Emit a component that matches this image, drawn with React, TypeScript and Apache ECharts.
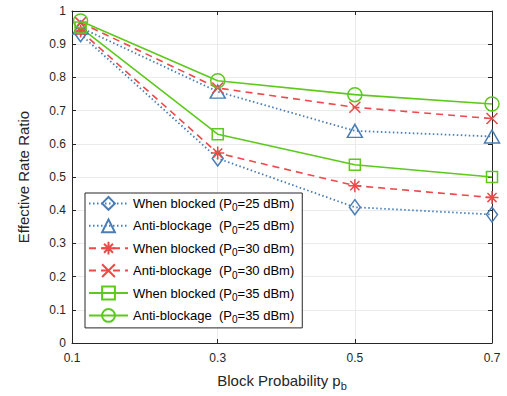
import React, { useEffect, useRef } from "react";
import * as echarts from "echarts";

// ---- data ----
const xValues = [0.1, 0.3, 0.5, 0.7];
const xAxisMin = 0.0875;
const xAxisMax = 0.7;
const xTickValues = [xAxisMin, 0.3, 0.5, 0.7];
const xTickLabels = ["0.1", "0.3", "0.5", "0.7"];

const seriesNames = [
  "When blocked (P0=25 dBm)",
  "Anti-blockage  (P0=25 dBm)",
  "When blocked (P0=30 dBm)",
  "Anti-blockage  (P0=30 dBm)",
  "When blocked (P0=35 dBm)",
  "Anti-blockage  (P0=35 dBm)",
];
const whenBlocked25 = [0.93, 0.556, 0.409, 0.387];
const antiBlockage25 = [0.95, 0.757, 0.639, 0.622];
const whenBlocked30 = [0.94, 0.572, 0.474, 0.438];
const antiBlockage30 = [0.965, 0.768, 0.71, 0.676];
const whenBlocked35 = [0.95, 0.629, 0.537, 0.5];
const antiBlockage35 = [0.97, 0.79, 0.748, 0.72];

const xAxisName = "Block Probability p{s|b}";
const yAxisName = "Effective Rate Ratio";

// ---- styles ----
const FONT = "'Liberation Sans', Arial, Helvetica, sans-serif";
const BLUE = "#4a7eb4";
const RED = "#ee4848";
const GREEN = "#5cc91c";
const AXIS = "#262626";

const SYM = {
  diamond: "path://M0,-1L0.75,0L0,1L-0.75,0Z",
  triangle: "path://M0,-1L1,1L-1,1Z",
  star: "path://M0,-1L0,1M-1,0L1,0M-0.7,-0.7L0.7,0.7M-0.7,0.7L0.7,-0.7",
  cross: "path://M-1,-1L1,1M-1,1L1,-1",
  square: "path://M-1,-1L1,-1L1,1L-1,1Z",
  circle: "path://M1,0A1,1,0,1,1,-1,0A1,1,0,1,1,1,0Z",
};

type Spec = {
  values: number[];
  color: string;
  dash: any;
  width: number;
  symbol: string;
  size: number | number[];
};

const specs: Spec[] = [
  { values: whenBlocked25, color: BLUE, dash: [1.5, 2.5], width: 1.8, symbol: SYM.diamond, size: [11, 15] },
  { values: antiBlockage25, color: BLUE, dash: [1.5, 2.5], width: 1.8, symbol: SYM.triangle, size: [15, 13] },
  { values: whenBlocked30, color: RED, dash: [7, 5], width: 1.6, symbol: SYM.star, size: 13 },
  { values: antiBlockage30, color: RED, dash: [7, 5], width: 1.6, symbol: SYM.cross, size: 11 },
  { values: whenBlocked35, color: GREEN, dash: "solid", width: 1.6, symbol: SYM.square, size: 11 },
  { values: antiBlockage35, color: GREEN, dash: "solid", width: 1.6, symbol: SYM.circle, size: 14 },
];

export default function App() {
  const ref = useRef<HTMLDivElement>(null);

  useEffect(() => {
    if (!ref.current) return;
    const chart = echarts.init(ref.current, undefined, { renderer: "svg" });

    const series = specs.map((s, i) => ({
      name: seriesNames[i],
      type: "line",
      xAxisIndex: 0,
      yAxisIndex: 0,
      data: xValues.map((x, j) => [x, s.values[j]]),
      symbol: s.symbol,
      symbolSize: s.size,
      showAllSymbol: true,
      lineStyle: { color: s.color, width: s.width, type: s.dash },
      itemStyle: { color: "rgba(0,0,0,0)", borderColor: s.color, borderWidth: 1.5 },
      emphasis: { disabled: true },
      z: 3,
    }));

    const tickLabel = (v: number) => {
      const idx = xTickValues.findIndex((t) => Math.abs(t - v) < 1e-6);
      return idx >= 0 ? xTickLabels[idx] : "";
    };

    chart.setOption({
      animation: false,
      backgroundColor: "#fff",
      grid: { left: 72, right: 15, top: 11, bottom: 52, containLabel: false },
      legend: {
        orient: "vertical",
        left: 85,
        top: 193,
        padding: [3, 8, 3, 3],
        itemWidth: 39,
        itemHeight: 16,
        itemGap: 5.5,
        backgroundColor: "#fff",
        borderColor: AXIS,
        borderWidth: 1,
        borderRadius: 0,
        data: seriesNames,
        formatter: (name: string) => name.replace("P0", "P{s|0}"),
        textStyle: {
          fontFamily: FONT,
          fontSize: 13,
          color: "#000",
          rich: {
            s: { fontFamily: FONT, fontSize: 10, color: "#000", padding: [9, 0, 0, 0] },
          },
        },
      },
      xAxis: [
        {
          type: "value",
          position: "bottom",
          min: xAxisMin,
          max: xAxisMax,
          name: xAxisName,
          nameLocation: "middle",
          nameGap: 27,
          nameTextStyle: {
            fontFamily: FONT,
            fontSize: 15,
            color: AXIS,
            rich: {
              s: { fontFamily: FONT, fontSize: 11, color: AXIS, padding: [10, 0, 0, 0] },
            },
          },
          axisLine: { show: true, lineStyle: { color: AXIS, width: 1 } },
          axisTick: { show: true, inside: true, length: 4, customValues: xTickValues, lineStyle: { color: AXIS } },
          axisLabel: {
            customValues: xTickValues,
            formatter: tickLabel,
            fontFamily: FONT,
            fontSize: 12,
            color: AXIS,
            margin: 9,
          },
          splitLine: { show: true, lineStyle: { color: "#ebebeb", width: 1 } },
        },
        {
          type: "value",
          position: "top",
          min: xAxisMin,
          max: xAxisMax,
          axisLine: { show: true, onZero: false, lineStyle: { color: AXIS, width: 1 } },
          axisTick: { show: true, inside: true, length: 4, customValues: xTickValues, lineStyle: { color: AXIS } },
          axisLabel: { show: false },
          splitLine: { show: false },
        },
      ],
      yAxis: [
        {
          type: "value",
          position: "left",
          min: 0,
          max: 1,
          interval: 0.1,
          name: yAxisName,
          nameLocation: "middle",
          nameGap: 41,
          nameTextStyle: { fontFamily: FONT, fontSize: 15, color: AXIS },
          axisLine: { show: true, onZero: false, lineStyle: { color: AXIS, width: 1 } },
          axisTick: { show: true, inside: true, length: 4, lineStyle: { color: AXIS } },
          axisLabel: {
            fontFamily: FONT,
            fontSize: 12,
            color: AXIS,
            margin: 6,
            formatter: (v: number) => String(Number(v.toFixed(1))),
          },
          splitLine: { show: true, lineStyle: { color: "#ebebeb", width: 1 } },
        },
        {
          type: "value",
          position: "right",
          min: 0,
          max: 1,
          interval: 0.1,
          axisLine: { show: true, onZero: false, lineStyle: { color: AXIS, width: 1 } },
          axisTick: { show: true, inside: true, length: 4, lineStyle: { color: AXIS } },
          axisLabel: { show: false },
          splitLine: { show: false },
        },
      ],
      series,
    });

    return () => chart.dispose();
  }, []);

  return (
    <div
      ref={ref}
      style={{ position: "absolute", left: 0, top: 0, width: 507, height: 396 }}
    />
  );
}
